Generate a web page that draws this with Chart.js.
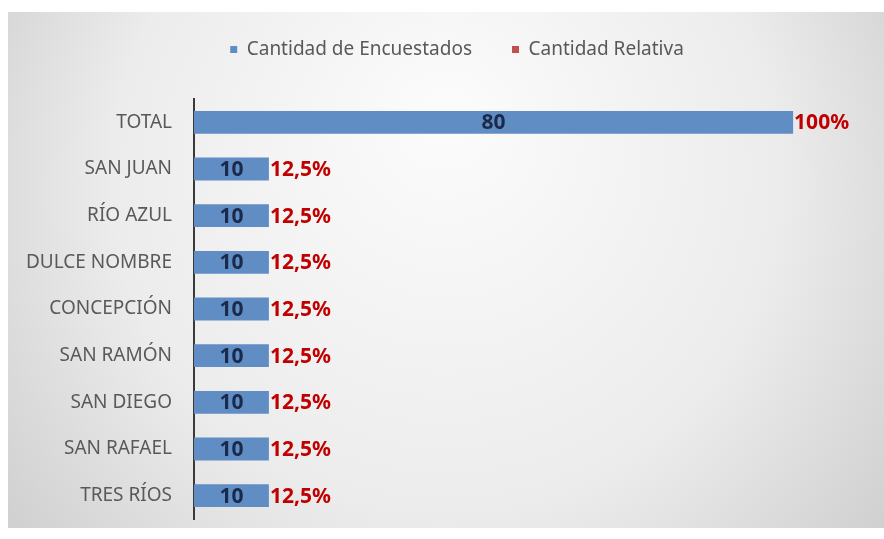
<!DOCTYPE html>
<html>
<head>
<meta charset="utf-8">
<script src="https://cdn.jsdelivr.net/npm/chart.js@4.4.0/dist/chart.umd.min.js"></script>
<style>
  html, body { margin: 0; padding: 0; background: #fff; }
  #wrap { width: 884px; height: 539px; position: relative; }
</style>
</head>
<body>
<div id="wrap"><canvas id="chart" width="884" height="539"></canvas></div>
<script>
// datos del gráfico
const categorias = ['TOTAL', 'SAN JUAN', 'RÍO AZUL', 'DULCE NOMBRE', 'CONCEPCIÓN', 'SAN RAMÓN', 'SAN DIEGO', 'SAN RAFAEL', 'TRES RÍOS'];
const encuestados = [80, 10, 10, 10, 10, 10, 10, 10, 10];
const relativa = [1, 0.125, 0.125, 0.125, 0.125, 0.125, 0.125, 0.125, 0.125];
const etiquetasRelativa = ['100%', '12,5%', '12,5%', '12,5%', '12,5%', '12,5%', '12,5%', '12,5%', '12,5%'];
const coloresLeyenda = ['#5f8dc4', '#c0504d'];

const fuente = '"Noto Sans", "Liberation Sans", sans-serif';

// fondo degradado gris
const fondo = {
  id: 'fondo',
  beforeDraw(chart) {
    const ctx = chart.ctx;
    const x0 = 8, y0 = 12, w = 876, h = 516;
    const g = ctx.createRadialGradient(x0 + w * 0.5, y0 + h * 0.2, 20, x0 + w * 0.5, y0 + h * 0.4, w * 0.62);
    g.addColorStop(0, '#fbfbfb');
    g.addColorStop(0.6, '#ececec');
    g.addColorStop(1, '#cfcfcf');
    ctx.save();
    ctx.fillStyle = g;
    ctx.fillRect(x0, y0, w, h);
    ctx.restore();
  }
};

// más espacio debajo de la leyenda y leyenda algo a la derecha
const ajusteLeyenda = {
  id: 'ajusteLeyenda',
  beforeInit(chart) {
    const leyenda = chart.legend;
    const fitOriginal = leyenda.fit;
    leyenda.fit = function () {
      fitOriginal.apply(this, arguments);
      this.height += 30;
    };
    const drawOriginal = leyenda.draw;
    leyenda.draw = function () {
      this.ctx.save();
      this.ctx.translate(23, 0);
      drawOriginal.apply(this, arguments);
      this.ctx.restore();
    };
  }
};

// etiquetas de valores
const etiquetas = {
  id: 'etiquetas',
  afterDatasetsDraw(chart) {
    const ctx = chart.ctx;
    const barras = chart.getDatasetMeta(0).data;
    ctx.save();
    ctx.textBaseline = 'middle';
    barras.forEach((b, i) => {
      ctx.font = 'bold 21px ' + fuente;
      ctx.fillStyle = '#1b2a4a';
      ctx.textAlign = 'center';
      ctx.fillText(String(encuestados[i]), (b.x + b.base) / 2, b.y + 1);
      ctx.fillStyle = '#c00000';
      ctx.textAlign = 'left';
      ctx.fillText(etiquetasRelativa[i], b.x + 1, b.y + 1);
    });
    ctx.restore();
  }
};

new Chart(document.getElementById('chart').getContext('2d'), {
  type: 'bar',
  data: {
    labels: categorias,
    datasets: [
      {
        label: 'Cantidad de Encuestados',
        data: encuestados,
        backgroundColor: coloresLeyenda[0],
        barPercentage: 0.7,
        categoryPercentage: 0.7
      },
      {
        label: 'Cantidad Relativa',
        data: relativa,
        backgroundColor: 'rgba(0,0,0,0)',
        barPercentage: 0.7,
        categoryPercentage: 0.7
      }
    ]
  },
  options: {
    indexAxis: 'y',
    responsive: false,
    animation: false,
    layout: { padding: { left: 0, right: 16, top: 0, bottom: 20 } },
    plugins: {
      legend: {
        position: 'top',
        labels: {
          font: { family: fuente, size: 19 },
          color: '#595959',
          boxWidth: 7,
          boxHeight: 7,
          padding: 40,
          generateLabels(chart) {
            return chart.data.datasets.map((ds, i) => ({
              text: ds.label,
              fillStyle: coloresLeyenda[i],
              strokeStyle: coloresLeyenda[i],
              lineWidth: 0,
              fontColor: '#595959',
              datasetIndex: i
            }));
          }
        }
      },
      tooltip: { enabled: false }
    },
    scales: {
      x: {
        stacked: true,
        display: false,
        min: 0,
        max: 90
      },
      y: {
        stacked: true,
        grid: { display: false },
        border: { display: true, color: '#3a3a3a', width: 2 },
        ticks: {
          font: { family: fuente, size: 19 },
          color: '#595959',
          padding: 14
        },
        afterFit(scale) {
          scale.width = 194;
          scale.paddingBottom = 0;
        }
      }
    }
  },
  plugins: [fondo, ajusteLeyenda, etiquetas]
});
</script>
</body>
</html>
